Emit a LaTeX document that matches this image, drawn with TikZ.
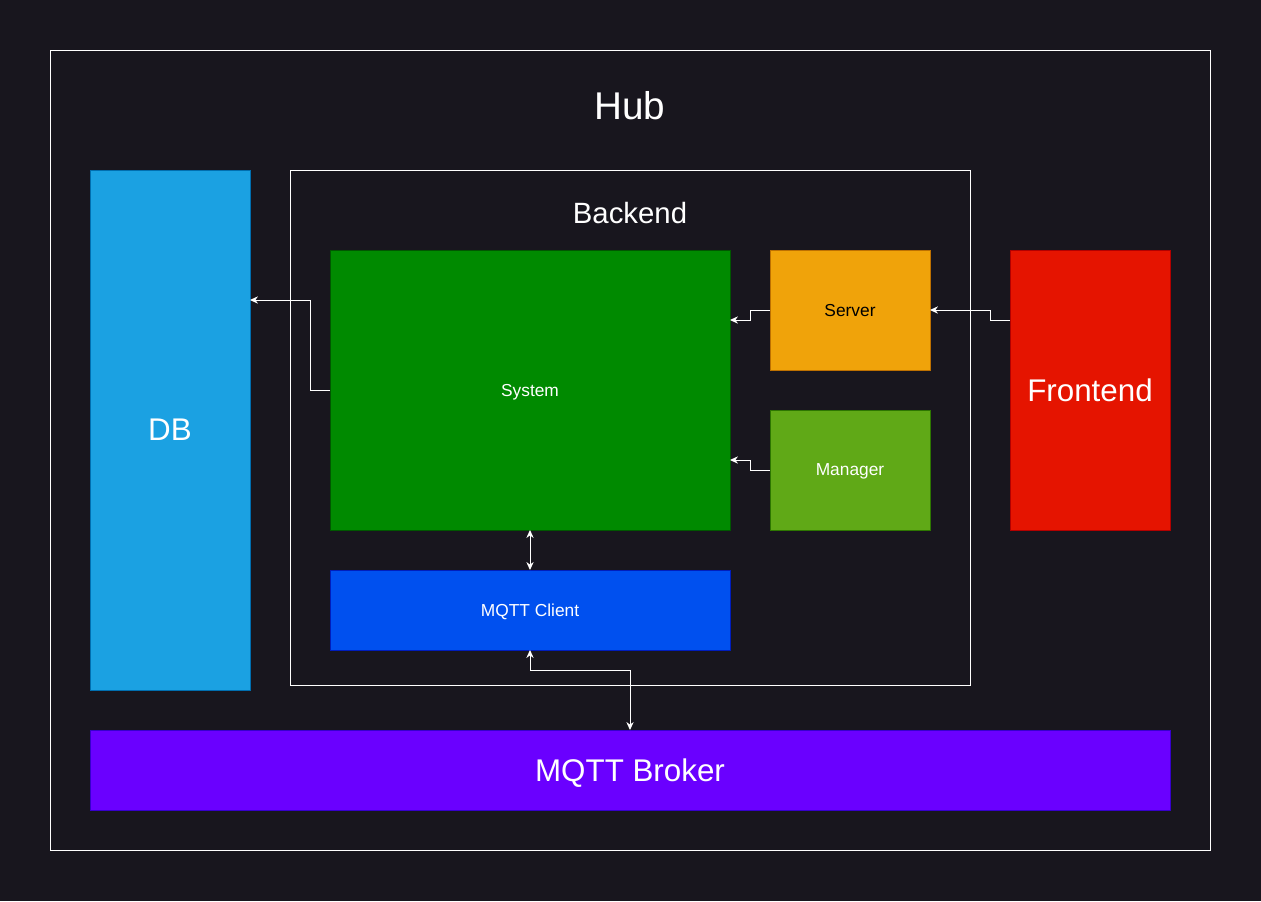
\documentclass[tikz,border=0pt]{standalone}
\usepackage{fontspec}
\setmainfont{Liberation Sans}
\usetikzlibrary{arrows.meta}

\definecolor{bgc}{RGB}{24,22,30}
\definecolor{dbfill}{HTML}{1BA1E2}\definecolor{dbline}{HTML}{006EAF}
\definecolor{sysfill}{HTML}{008A00}\definecolor{sysline}{HTML}{005700}
\definecolor{srvfill}{HTML}{F0A30A}\definecolor{srvline}{HTML}{BD7000}
\definecolor{mgrfill}{HTML}{60A917}\definecolor{mgrline}{HTML}{2D7600}
\definecolor{fefill}{HTML}{E51400}\definecolor{feline}{HTML}{B20000}
\definecolor{mcfill}{HTML}{0050EF}\definecolor{mcline}{HTML}{001DBC}
\definecolor{brkfill}{HTML}{6A00FF}\definecolor{brkline}{HTML}{3700CC}

\tikzset{
	block/.style={rectangle, inner sep=0pt, outer sep=0pt, line width=0.75pt, text=white, text depth=0pt, font=\fontsize{13}{15}\selectfont},
	bigblock/.style={block, font=\fontsize{23.5}{27}\selectfont},
	frame/.style={draw=white, line width=0.6pt},
	arr/.style={draw=white, line width=0.75pt, -{Stealth[length=6pt,width=5.5pt]}},
	biarr/.style={arr, {Stealth[length=6pt,width=5.5pt]}-{Stealth[length=6pt,width=5.5pt]}},
}

\begin{document}
\begin{tikzpicture}[x=0.75pt,y=0.75pt,yscale=-1]
	\path[fill=bgc, use as bounding box] (0,0) rectangle (1261,901);
	
	% outer frames
	\draw[frame] (50,50) rectangle (1210,850);
	\node[text=white, text depth=0pt, font=\fontsize{29}{33}\selectfont] (hub) at (630,105) {Hub};
	\draw[frame] (290,170) rectangle (970,685);
	\node[text=white, text depth=0pt, font=\fontsize{22}{26}\selectfont] (backend) at (630,213) {Backend};
	
	% blocks
	\node[bigblock, fill=dbfill, draw=dbline, minimum width=120pt, minimum height=390pt] (db) at (170,430) {DB};
	\node[block, fill=sysfill, draw=sysline, minimum width=300pt, minimum height=210pt] (sys) at (530,390) {System};
	\node[block, fill=srvfill, draw=srvline, text=black, minimum width=120pt, minimum height=90pt] (srv) at (850,310) {Server};
	\node[block, fill=mgrfill, draw=mgrline, minimum width=120pt, minimum height=90pt] (mgr) at (850,470) {Manager};
	\node[bigblock, fill=fefill, draw=feline, minimum width=120pt, minimum height=210pt] (fe) at (1090,390) {Frontend};
	\node[block, fill=mcfill, draw=mcline, minimum width=300pt, minimum height=60pt] (mc) at (530,610) {MQTT Client};
	\node[bigblock, fill=brkfill, draw=brkline, minimum width=810pt, minimum height=60pt] (brk) at (630,770) {MQTT Broker};
	
	% connector ends
	\coordinate (dbin) at (250,300);
	\coordinate (syssrv) at (730,320);
	\coordinate (sysmgr) at (730,460);
	\coordinate (feout) at (1010,320);
	
	% connectors
	\draw[arr] (sys.west) -- ++(-20,0) |- (dbin);
	\draw[arr] (srv.west) -- ++(-20,0) |- (syssrv);
	\draw[arr] (mgr.west) -- ++(-20,0) |- (sysmgr);
	\draw[arr] (feout) -- ++(-20,0) |- (srv.east);
	\draw[biarr] (sys.south) -- (mc.north);
	\draw[biarr] (mc.south) -- ++(0,20) -| (brk.north);
	
\end{tikzpicture}
\end{document}
